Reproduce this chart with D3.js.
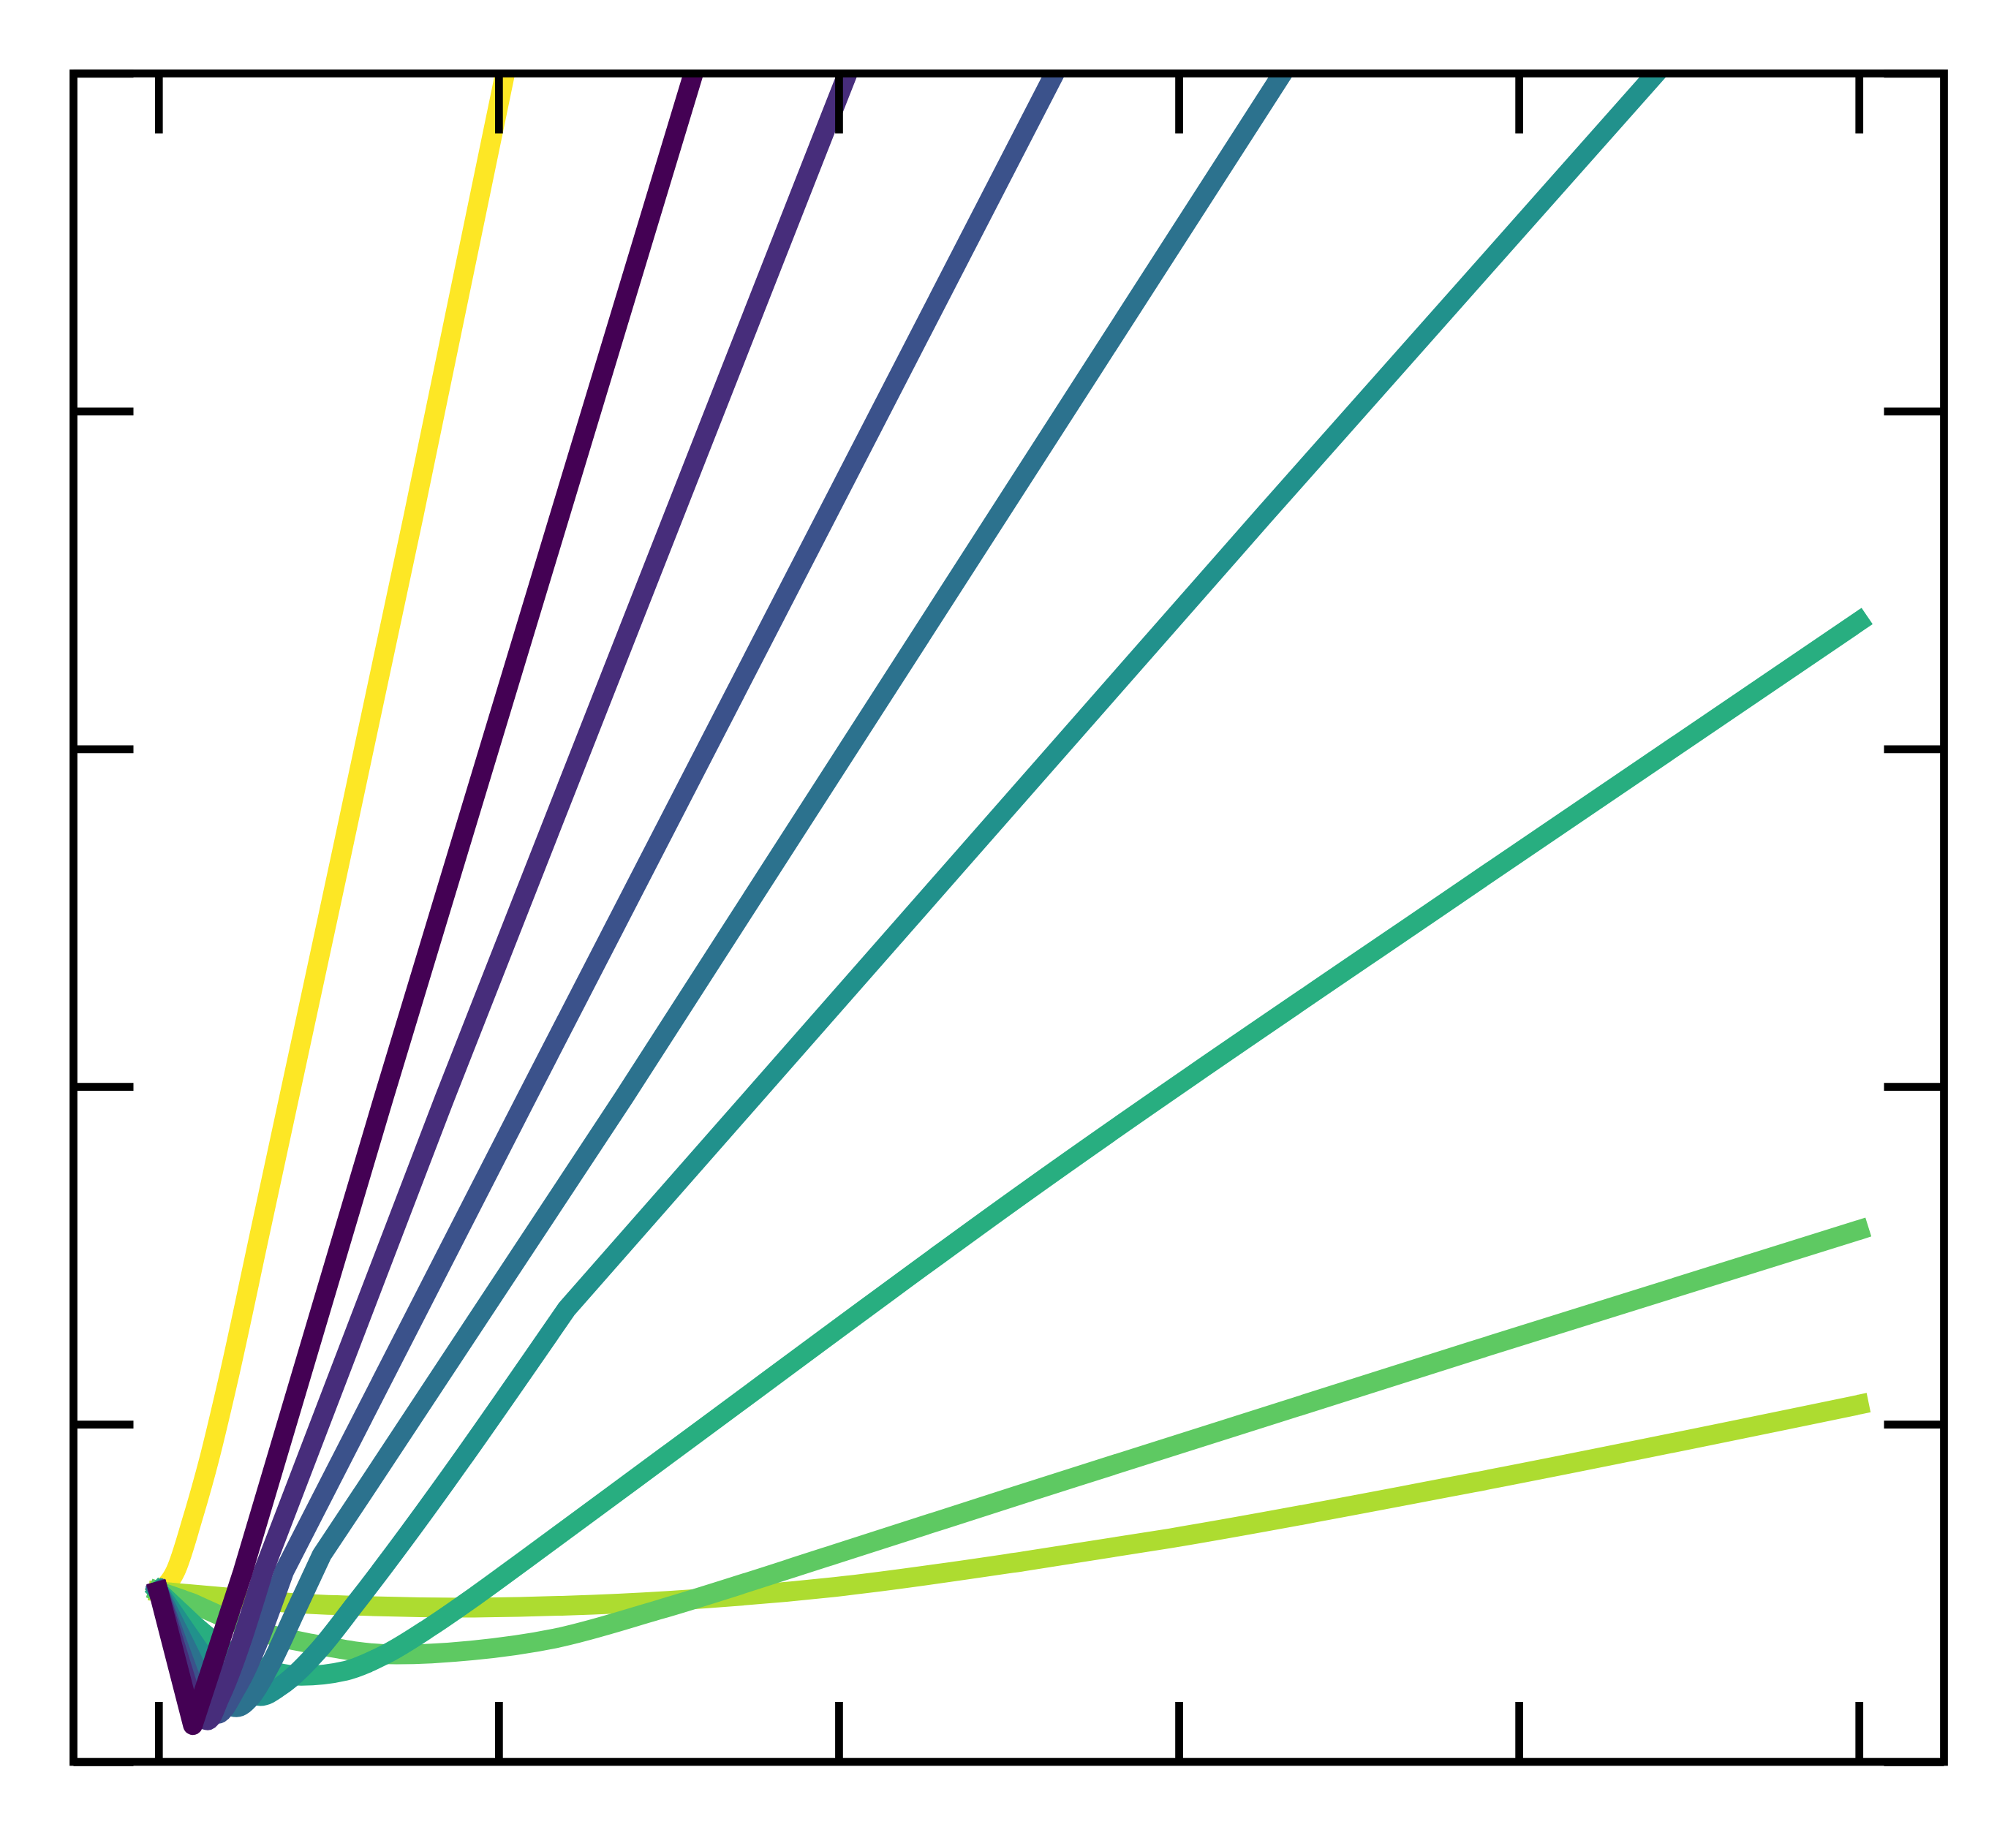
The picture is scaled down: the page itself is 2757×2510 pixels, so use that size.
<!DOCTYPE html>
<html lang="en">
<head>
<meta charset="utf-8">
<title>Viridis curves</title>
<script src="https://d3js.org/d3.v7.min.js"></script>
<style>
  html, body { margin: 0; padding: 0; background: #fff; }
  svg { display: block; }
  .tick line { stroke: #000; stroke-width: 10.7px; }
  .frame { fill: none; stroke: #000; stroke-width: 10.7px; }
  .curve { fill: none; stroke-width: 27px; stroke-linejoin: round; stroke-linecap: square; }
</style>
</head>
<body>
<svg width="2757" height="2510"></svg>
<script>
// axis ticks (no labels are shown in the figure)
var xTicks = [0, 1, 2, 3, 4, 5];
var yTicks = [0, 1, 2, 3, 4, 5];

// colour parameter of each curve (viridis)
var seriesT = [0, 0.125, 0.25, 0.375, 0.5, 0.625, 0.75, 0.875, 1];

// curves as [x, y]
var s0 = [[0, 0.505], [0.101, 0.109], [0.248, 0.563], [0.663, 1.97], [1.573, 5.0], [1.66, 5.3]];
var s1 = [[0, 0.505], [0.11, 0.145], [0.145, 0.123], [0.18, 0.19], [0.308, 0.563], [0.843, 1.97], [2.026, 5.0], [2.14, 5.3]];
var s2 = [[0, 0.505], [0.12, 0.175], [0.172, 0.141], [0.23, 0.22], [0.369, 0.563], [1.084, 1.97], [2.635, 5.0], [2.79, 5.3]];
var s3 = [[0, 0.505], [0.13, 0.24], [0.2, 0.17], [0.23, 0.162], [0.27, 0.19], [0.33, 0.29], [0.4, 0.44], [0.48, 0.613],
          [0.597, 0.79], [1.37, 1.97], [3.305, 5.0], [3.5, 5.3]];
var s4 = [[0, 0.505], [0.12, 0.33], [0.22, 0.23], [0.3, 0.195], [0.36, 0.225], [0.47, 0.33], [0.58, 0.47], [1.2, 1.341],
          [2.329, 2.635], [3.251, 3.692], [4.403, 5.0], [4.67, 5.3]];
var s5 = [[0, 0.505], [0.1, 0.41], [0.2, 0.33], [0.3, 0.28], [0.42, 0.255], [0.55, 0.27], [0.67, 0.32], [0.8, 0.4],
          [0.93, 0.49], [1.08, 0.6], [1.491, 0.905], [2.544, 1.684], [3.864, 2.6], [5.0, 3.377]];
var s6 = [[0, 0.505], [0.1, 0.47], [0.2, 0.425], [0.3, 0.385], [0.45, 0.35], [0.7, 0.318], [0.92, 0.33], [1.167, 0.366],
          [1.469, 0.45], [1.989, 0.615], [2.544, 0.795], [3.864, 1.217], [5.0, 1.575]];
var s7 = [[0, 0.505], [0.2, 0.487], [0.4, 0.47], [0.6, 0.462], [0.9, 0.457], [1.2, 0.463], [1.5, 0.477], [1.989, 0.518],
          [2.544, 0.594], [2.974, 0.662], [3.864, 0.827], [5.0, 1.058]];
var s8 = [[0, 0.505], [0.05, 0.565], [0.1, 0.72], [0.15, 0.9], [0.2, 1.11], [0.3, 1.575], [0.5, 2.51], [0.75, 3.69],
          [1.019, 5.0], [1.08, 5.3]];

var series = [s0, s1, s2, s3, s4, s5, s6, s7, s8];
// each curve: straight up to smoothFrom, smooth up to straightFrom, straight after (sharp V / kink)
var smoothFrom = [0, 1, 1, 1, 1, 1, 1, 1, 0];
var straightFrom = [0, 4, 4, 7, 7, 99, 99, 99, 99];

var svg = d3.select("svg");
// plot box in pixels
var boxLeft = 100.5, boxRight = 2658.5, boxTop = 100.5, boxBottom = 2410;
var tickLen = 82;

var x = d3.scaleLinear().domain([-0.25, 5.25]).range([boxLeft, boxRight]);
var y = d3.scaleLinear().domain([0, 5]).range([boxBottom, boxTop]);

svg.append("rect")
  .attr("width", 2757).attr("height", 2510)
  .attr("fill", "#fff");

svg.append("clipPath")
  .attr("id", "plot-clip")
  .append("rect")
    .attr("x", boxLeft).attr("y", boxTop)
    .attr("width", boxRight - boxLeft).attr("height", boxBottom - boxTop);

var sharpLine = d3.line()
  .x(function(d) { return x(d[0]); })
  .y(function(d) { return y(d[1]); });

var smoothLine = d3.line()
  .curve(d3.curveMonotoneX)
  .x(function(d) { return x(d[0]); })
  .y(function(d) { return y(d[1]); });

function curvePath(i) {
  var pts = series[i];
  var last = pts.length - 1;
  var a = Math.min(smoothFrom[i], last);
  var b = Math.max(a, Math.min(straightFrom[i], last));
  var parts = [];
  if (a > 0) parts.push(sharpLine(pts.slice(0, a + 1)));
  if (b > a) parts.push(smoothLine(pts.slice(a, b + 1)));
  if (b < last) parts.push(sharpLine(pts.slice(b)));
  return parts.map(function(p, j) { return j ? p.replace(/^M/, "L") : p; }).join("");
}

// last colour is drawn first, so the dark curves sit on top
var order = d3.range(series.length).reverse();

svg.append("g")
  .attr("clip-path", "url(#plot-clip)")
  .selectAll("path")
  .data(order)
  .enter()
  .append("path")
    .attr("class", "curve")
    .attr("stroke", function(i) { return d3.interpolateViridis(seriesT[i]); })
    .attr("d", curvePath);

// inward ticks on all four sides
function dropDomain(g) { g.select(".domain").remove(); g.selectAll("text").remove(); }

svg.append("g")
  .attr("transform", "translate(0," + boxBottom + ")")
  .call(d3.axisBottom(x).tickValues(xTicks).tickSizeInner(-tickLen).tickSizeOuter(0).tickFormat(""))
  .call(dropDomain);

svg.append("g")
  .attr("transform", "translate(0," + boxTop + ")")
  .call(d3.axisTop(x).tickValues(xTicks).tickSizeInner(-tickLen).tickSizeOuter(0).tickFormat(""))
  .call(dropDomain);

svg.append("g")
  .attr("transform", "translate(" + boxLeft + ",0)")
  .call(d3.axisLeft(y).tickValues(yTicks).tickSizeInner(-tickLen).tickSizeOuter(0).tickFormat(""))
  .call(dropDomain);

svg.append("g")
  .attr("transform", "translate(" + boxRight + ",0)")
  .call(d3.axisRight(y).tickValues(yTicks).tickSizeInner(-tickLen).tickSizeOuter(0).tickFormat(""))
  .call(dropDomain);

svg.append("rect")
  .attr("class", "frame")
  .attr("x", boxLeft).attr("y", boxTop)
  .attr("width", boxRight - boxLeft).attr("height", boxBottom - boxTop);
</script>
</body>
</html>
